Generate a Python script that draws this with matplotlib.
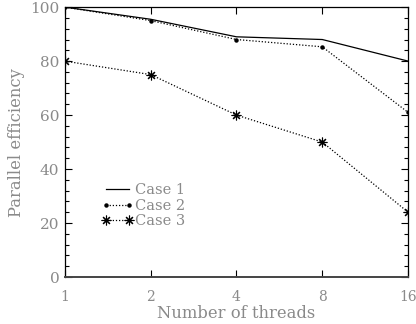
import numpy as np
import matplotlib
matplotlib.use('Agg')
import matplotlib.pyplot as plt
from matplotlib.ticker import FixedLocator, MultipleLocator, NullLocator

threads = [1, 2, 4, 8, 16]
case1 = [100, 95.5, 89, 88, 80]
case2 = [100, 95, 88, 85.3, 61]
case3 = [80, 75, 60, 50, 24]
labels = ['Case 1', 'Case 2', 'Case 3']

gray = '#8a8a8a'
plt.rcParams['font.family'] = 'DejaVu Serif'
plt.rcParams['font.size'] = 9

fig = plt.figure(figsize=(4.16, 3.24), dpi=100)
ax = fig.add_axes([0.156, 0.145, 0.825, 0.833])

ax.plot(threads, case1, color='black', lw=0.9, label=labels[0])
ax.plot(threads, case2, color='black', lw=0.9, ls=(0, (1, 1.5)),
        marker='o', ms=2.2, label=labels[1])
ax.plot(threads, case3, color='black', lw=0.9, ls=(0, (1, 1.5)),
        marker=(8, 2, 0), ms=7, mew=0.8, label=labels[2])

ax.set_xscale('log', base=2)
ax.set_xlim(1, 16)
ax.set_ylim(0, 100)
ax.xaxis.set_major_locator(FixedLocator(threads))
ax.xaxis.set_minor_locator(NullLocator())
ax.set_xticklabels([str(t) for t in threads])
ax.yaxis.set_major_locator(MultipleLocator(20))
ax.yaxis.set_minor_locator(MultipleLocator(4))

ax.tick_params(which='both', direction='in', top=True, right=True,
               labelcolor=gray, labelsize=11, width=0.8)
ax.tick_params(which='major', length=5)
ax.tick_params(which='minor', length=3)
ax.tick_params(axis='x', pad=9, labelsize=10)
ax.tick_params(axis='y', pad=4)
for s in ax.spines.values():
    s.set_linewidth(0.9)
ax.spines['bottom'].set_linewidth(1.4)
ax.spines['bottom'].set_color('#444444')

ax.set_xlabel('Number of threads', color=gray, fontsize=11.8, labelpad=1)
ax.set_ylabel('Parallel efficiency', color=gray, fontsize=11.8, labelpad=4)

leg = ax.legend(loc='upper left', bbox_to_anchor=(0.09, 0.37), frameon=False,
                handlelength=2.2, handletextpad=0.1, labelspacing=0.12,
                fontsize=10.5, borderaxespad=0, numpoints=2)
for t in leg.get_texts():
    t.set_color(gray)

fig.savefig('out.png', dpi=100)
